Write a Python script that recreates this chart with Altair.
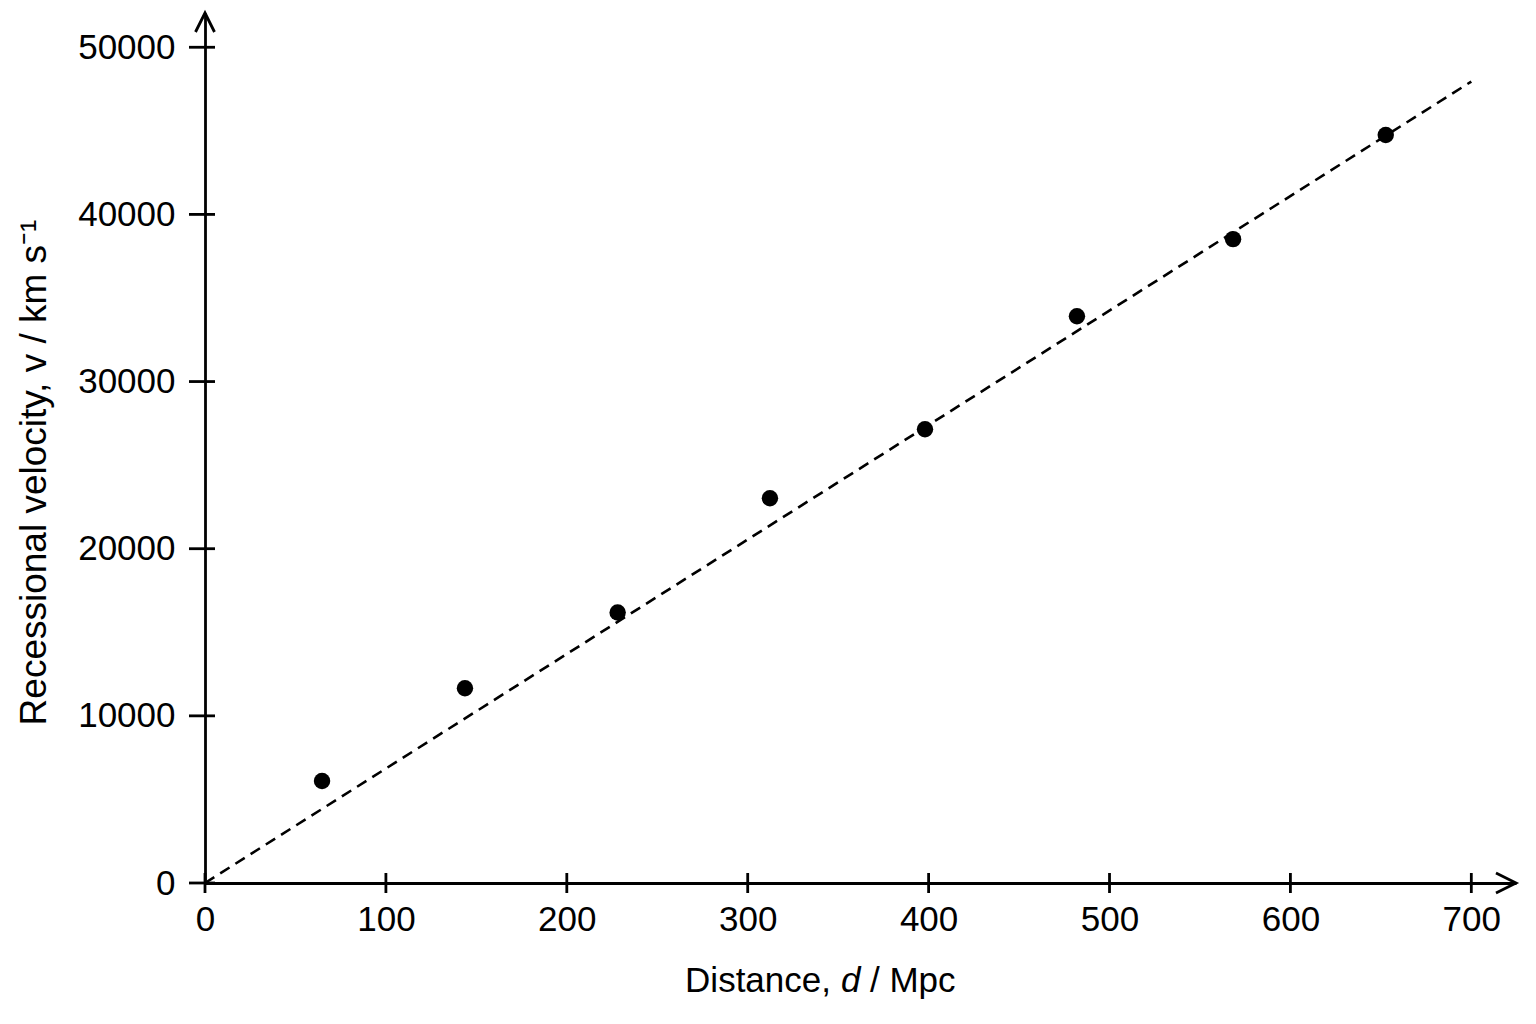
import pandas as pd
import altair as alt

# measured galaxies: distance (Mpc) and recessional velocity (km/s)
distance = [64.7, 143.7, 228.1, 312.3, 398.0, 482.0, 568.3, 652.7]
velocity = [6100, 11650, 16180, 23020, 27150, 33910, 38520, 44750]

# best-fit line end points
fit_d = [0, 700]
fit_v = [0, 47950]

x_ticks = [0, 100, 200, 300, 400, 500, 600, 700]
y_ticks = [0, 10000, 20000, 30000, 40000, 50000]

# axes run a little past the last tick, to the arrow heads
x_end = 724.7
y_end = 52050

FONT = "Liberation Sans"
INK = "black"
LW = 2.8

x_scale = alt.Scale(domain=[0, x_end], nice=False, zero=False)
y_scale = alt.Scale(domain=[0, y_end], nice=False, zero=False)

x_axis = alt.Axis(
    values=x_ticks, ticks=False, tickSize=0, grid=False,
    domainColor=INK, domainWidth=LW,
    labelFont=FONT, labelFontSize=35, labelColor=INK,
    labelPadding=19, labelBaseline="top", labelFlush=False,
    labelOverlap=False, title=None,
)
y_axis = alt.Axis(
    values=y_ticks, ticks=False, tickSize=0, grid=False,
    domainColor=INK, domainWidth=LW,
    labelFont=FONT, labelFontSize=35, labelColor=INK,
    labelPadding=30, labelBaseline="middle", labelFlush=False,
    labelOverlap=False, format="d",
    title="Recessional velocity, v / km s\u207b\u00b9",
    titleFont=FONT, titleFontSize=37, titleFontWeight="normal",
    titleColor=INK, titleAngle=270, titleAlign="center",
    titleBaseline="alphabetic", titleX=-160, titleY=459,
)

X = alt.X("d:Q", scale=x_scale, axis=x_axis)
Y = alt.Y("v:Q", scale=y_scale, axis=y_axis)

points = (
    alt.Chart(pd.DataFrame({"d": distance, "v": velocity}))
    .mark_circle(size=270, color=INK, opacity=1)
    .encode(X, Y)
)

fit = (
    alt.Chart(pd.DataFrame({"d": fit_d, "v": fit_v}))
    .mark_line(color=INK, strokeWidth=2.6, strokeDash=[11, 7])
    .encode(X, Y)
)

x_tick_marks = (
    alt.Chart(pd.DataFrame({"d": x_ticks, "v": [0] * len(x_ticks)}))
    .mark_tick(orient="vertical", size=20, thickness=LW, color=INK, opacity=1)
    .encode(X, Y)
)

y_tick_marks = (
    alt.Chart(pd.DataFrame({"d": [0] * len(y_ticks), "v": y_ticks}))
    .mark_tick(orient="horizontal", size=26, thickness=LW, color=INK,
               opacity=1, xOffset=-3)
    .encode(X, Y)
)

arrow_right = (
    alt.Chart(pd.DataFrame({"d": [x_end], "v": [0]}))
    .mark_point(shape="M -1 -0.5 L 0 0 L -1 0.5", size=1600, filled=False,
                color=INK, strokeWidth=LW, opacity=1)
    .encode(X, Y)
)

arrow_up = (
    alt.Chart(pd.DataFrame({"d": [0], "v": [y_end]}))
    .mark_point(shape="M -0.5 1 L 0 0 L 0.5 1", size=1444, filled=False,
                color=INK, strokeWidth=LW, opacity=1)
    .encode(X, Y)
)


def title_piece(text, x, align, style="normal"):
    return (
        alt.Chart(alt.Data(values=[{}]))
        .mark_text(text=text, font=FONT, fontSize=35, fontStyle=style,
                   color=INK, align=align, baseline="alphabetic")
        .encode(x=alt.value(x), y=alt.value(979))
    )


x_title = (
    title_piece("Distance,", 626, "right")
    + title_piece("d", 636, "left", "italic")
    + title_piece("/ Mpc", 665, "left")
)

chart = (
    alt.layer(fit, x_tick_marks, y_tick_marks, arrow_right, arrow_up,
              points, x_title)
    .properties(
        width=1311,
        height=870,
        autosize=alt.AutoSizeParams(type="none"),
        padding={"left": 197, "top": 5, "right": 8, "bottom": 120},
        background="white",
    )
    .configure_view(stroke=None)
)

chart.save("out.html", embed_options={"renderer": "svg", "actions": False})
